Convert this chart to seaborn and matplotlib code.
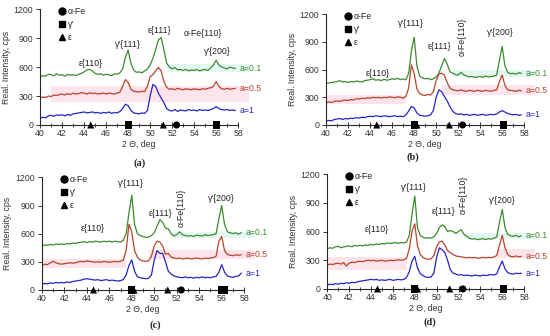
import numpy as np
import pandas as pd
import seaborn as sns
import matplotlib.pyplot as plt
from matplotlib.patches import Rectangle
from matplotlib.lines import Line2D

# 2-theta grid (deg)
two_theta = np.arange(40, 58, 0.25)
samples = ['a=0.1', 'a=0.5', 'a=1']
colors = ['#3c8a2e', '#b8432a', '#2424c8']

# intensities, cps
a_01 = [500, 510, 505, 525, 520, 510, 530, 515,
        520, 505, 525, 515, 520, 510, 525, 535,
        550, 570, 575, 560, 535, 525, 530, 515,
        525, 520, 510, 530, 525, 540, 580, 700,
        775, 640, 570, 545, 550, 540, 560, 580,
        620, 690, 780, 880, 905, 780, 640, 600,
        580, 595, 570, 575, 565, 575, 560, 570,
        565, 575, 560, 570, 575, 565, 590, 620,
        670, 620, 600, 590, 580, 600, 590, 585]
a_05 = [280, 290, 285, 300, 295, 310, 305, 315,
        320, 310, 325, 315, 330, 320, 325, 335,
        330, 320, 335, 325, 330, 320, 325, 330,
        320, 330, 325, 320, 330, 340, 400, 470,
        440, 370, 350, 345, 340, 350, 345, 400,
        500, 520, 560, 595, 560, 450, 390, 370,
        375, 365, 380, 370, 365, 375, 370, 365,
        375, 370, 365, 375, 370, 380, 385, 400,
        450, 400, 375, 370, 380, 370, 375, 380]
a_10 = [70, 80, 75, 95, 100, 90, 105, 100,
        105, 95, 110, 100, 115, 120, 125, 130,
        135, 125, 130, 135, 125, 130, 120, 130,
        125, 135, 120, 130, 125, 140, 170, 215,
        200, 150, 125, 120, 115, 125, 120, 150,
        300, 420, 400, 330, 280, 230, 170, 150,
        145, 160, 140, 155, 150, 145, 160, 150,
        155, 145, 160, 150, 155, 150, 160, 170,
        190, 170, 160, 155, 160, 150, 155, 150]

b_01 = [450, 455, 460, 465, 470, 480, 465, 470,
        460, 470, 465, 475, 470, 465, 480, 485,
        490, 500, 485, 490, 480, 495, 485, 490,
        500, 495, 505, 490, 500, 490, 560, 800,
        950, 640, 530, 510, 500, 505, 490, 500,
        520, 560, 640, 720, 660, 580, 560, 545,
        540, 570, 545, 530, 520, 525, 515, 520,
        525, 515, 530, 520, 525, 530, 540, 700,
        850, 640, 570, 555, 560, 550, 565, 560]
b_05 = [240, 250, 245, 255, 260, 255, 265, 270,
        265, 275, 270, 285, 280, 290, 285, 295,
        290, 300, 295, 300, 290, 300, 295, 305,
        300, 295, 305, 300, 290, 310, 400, 650,
        560, 390, 340, 325, 320, 330, 325, 360,
        480, 550, 560, 540, 460, 400, 380, 375,
        370, 380, 370, 365, 375, 370, 365, 375,
        370, 365, 375, 370, 365, 375, 380, 470,
        540, 430, 380, 375, 370, 365, 375, 370]
b_10 = [40, 50, 45, 60, 65, 70, 60, 70,
        65, 75, 70, 80, 75, 85, 80, 90,
        95, 90, 100, 95, 90, 100, 95, 90,
        95, 100, 90, 95, 90, 110, 150, 200,
        185, 130, 105, 100, 95, 100, 110, 160,
        300, 380, 360, 310, 260, 200, 150, 125,
        115, 120, 110, 115, 105, 110, 115, 105,
        110, 115, 105, 110, 115, 110, 120, 140,
        155, 140, 125, 115, 110, 115, 105, 110]

c_01 = [470, 480, 475, 485, 480, 490, 485, 490,
        485, 495, 490, 500, 495, 505, 510, 515,
        505, 515, 510, 520, 515, 510, 520, 515,
        520, 510, 520, 515, 510, 530, 600, 820,
        1010, 700, 600, 580, 570, 560, 565, 580,
        610, 680, 750, 720, 660, 650, 600, 575,
        590, 620, 590, 580, 575, 580, 570, 585,
        580, 575, 590, 580, 585, 590, 600, 760,
        900, 700, 620, 610, 600, 610, 595, 610]
c_05 = [260, 275, 270, 290, 305, 290, 280, 275,
        280, 285, 290, 285, 290, 300, 305, 300,
        310, 305, 300, 295, 300, 295, 305, 300,
        295, 300, 305, 300, 305, 320, 420, 700,
        620, 420, 350, 320, 310, 305, 310, 360,
        470, 520, 510, 470, 380, 390, 350, 340,
        335, 340, 330, 335, 340, 330, 335, 340,
        335, 330, 340, 335, 340, 345, 360, 520,
        570, 420, 380, 370, 365, 375, 370, 375]
c_10 = [60, 70, 65, 75, 70, 80, 75, 80,
        75, 85, 80, 90, 95, 100, 105, 115,
        120, 115, 110, 105, 110, 100, 105, 110,
        100, 105, 100, 95, 100, 110, 160, 260,
        320, 200, 140, 130, 125, 120, 125, 160,
        320, 420, 390, 390, 300, 200, 170, 150,
        140, 135, 130, 140, 130, 135, 125, 135,
        130, 140, 130, 135, 130, 140, 145, 190,
        270, 190, 150, 140, 135, 145, 150, 180]

d_01 = [420, 430, 425, 440, 445, 430, 440, 445,
        450, 440, 455, 450, 455, 450, 460, 455,
        465, 460, 470, 465, 475, 470, 480, 475,
        480, 485, 475, 485, 480, 490, 560, 780,
        970, 640, 560, 540, 530, 535, 530, 545,
        580, 640, 670, 650, 600, 610, 600, 580,
        600, 620, 570, 550, 530, 520, 525, 515,
        520, 525, 515, 525, 520, 530, 545, 700,
        830, 640, 570, 555, 550, 560, 545, 555]
d_05 = [250, 260, 255, 265, 270, 260, 275, 240,
        270, 280, 275, 285, 290, 285, 295, 300,
        295, 300, 290, 295, 300, 290, 295, 300,
        295, 300, 305, 300, 305, 320, 420, 600,
        680, 450, 360, 330, 315, 310, 315, 350,
        440, 490, 500, 460, 400, 380, 360, 345,
        340, 335, 330, 325, 330, 325, 330, 320,
        325, 330, 325, 330, 325, 335, 350, 460,
        560, 430, 360, 340, 335, 345, 335, 340]
d_10 = [40, 50, 45, 55, 50, 60, 55, 65,
        60, 70, 65, 75, 80, 85, 90, 95,
        100, 95, 100, 90, 95, 90, 95, 100,
        90, 95, 100, 95, 100, 120, 180, 290,
        340, 220, 160, 140, 125, 120, 125, 170,
        330, 430, 410, 380, 300, 200, 165, 155,
        145, 150, 140, 145, 140, 135, 145, 140,
        135, 145, 140, 145, 150, 145, 160, 230,
        290, 210, 170, 160, 155, 165, 160, 165]

curves = {'a': [a_01, a_05, a_10], 'b': [b_01, b_05, b_10],
          'c': [c_01, c_05, c_10], 'd': [d_01, d_05, d_10]}

# reference peak positions (deg)
phases = ['α-Fe', "γ'", 'ε']
phase_markers = ['o', 's', '^']
alpha_pos = [52.4]
gamma_pos = {'a': [48.0, 56.0], 'b': [48.0, 56.1], 'c': [48.0, 56.0, 56.2], 'd': [48.0, 56.1]}
eps_pos = {'a': [44.6, 51.2], 'b': [44.6, 48.25, 51.2], 'c': [44.6, 48.2, 51.2], 'd': [44.6, 48.25, 51.2]}

# peak labels: text, x, y, rotation
peak_labels = {
    'a': [('ε{110}', 44.6, 640, 0), ("γ'{111}", 48.0, 830, 0), ('ε{111}', 50.9, 975, 0),
          ('α-Fe{110}', 54.8, 950, 0), ("γ'{200}", 56.1, 760, 0)],
    'b': [('ε{110}', 44.7, 560, 0), ("γ'{111}", 47.7, 1100, 0), ('ε{111}', 50.3, 850, 0),
          ('α-Fe{110}', 52.4, 950, 90), ("γ'{200}", 55.8, 1000, 0)],
    'c': [('ε{110}', 44.5, 650, 0), ("γ'{111}", 47.9, 1140, 0), ('ε{111}', 50.6, 810, 0),
          ('α-Fe{110}', 52.4, 880, 90), ("γ'{200}", 56.0, 970, 0)],
    'd': [('ε{110}', 44.5, 620, 0), ("γ'{111}", 47.9, 1060, 0), ('ε{111}', 50.6, 810, 0),
          ('α-Fe{110}', 52.4, 980, 90), ("γ'{200}", 56.0, 920, 0)],
}

# faint highlight bands behind the curves: x0, x1, y0, y1, colour
bands = {
    'a': [(41.0, 59.0, 240, 400, '#fde3ea'), (51.5, 59.0, 550, 630, '#e3f8f2')],
    'b': [(40.0, 47.3, 230, 330, '#fde3ea'), (50.5, 59.0, 330, 430, '#fde3ea'),
          (51.5, 59.0, 520, 600, '#e3f8f2')],
    'c': [(40.0, 47.5, 230, 330, '#fde3ea'), (49.5, 59.0, 330, 430, '#fde3ea'),
          (51.7, 59.0, 550, 620, '#e3f8f2')],
    'd': [(40.0, 47.3, 200, 330, '#fde3ea'), (55.5, 59.0, 320, 420, '#fde3ea'),
          (52.5, 59.0, 520, 580, '#e3f8f2')],
}

sns.set_style('ticks')
plt.rcParams['font.family'] = ['Liberation Sans', 'DejaVu Sans']
plt.rcParams['axes.linewidth'] = 0.8
FS = 6.3

fig = plt.figure(figsize=(5.5, 3.36), dpi=100)
boxes = {'a': [0.073, 0.628, 0.36, 0.345], 'b': [0.593, 0.628, 0.36, 0.33],
         'c': [0.076, 0.137, 0.368, 0.335], 'd': [0.595, 0.14, 0.358, 0.342]}
sub_pos = {'a': (0.253, 0.515), 'b': (0.751, 0.533), 'c': (0.282, 0.033), 'd': (0.782, 0.042)}

legend_handles = [Line2D([], [], marker=m, color='black', ls='', ms=5, label=p)
                  for p, m in zip(phases, phase_markers)]

for key in ['a', 'b', 'c', 'd']:
    ax = fig.add_axes(boxes[key])
    for x0, x1, y0, y1, fc in bands[key]:
        ax.add_patch(Rectangle((x0, y0), x1 - x0, y1 - y0, facecolor=fc, edgecolor='none',
                               zorder=0, clip_on=False))

    df = pd.concat([pd.DataFrame({'two_theta': two_theta, 'cps': vals, 'sample': s})
                    for s, vals in zip(samples, curves[key])])
    sns.lineplot(data=df, x='two_theta', y='cps', hue='sample', hue_order=samples,
                 palette=colors, linewidth=0.9, legend=False, ax=ax, zorder=2)

    pos = alpha_pos + gamma_pos[key] + eps_pos[key]
    ph = ['α-Fe'] * len(alpha_pos) + ["γ'"] * len(gamma_pos[key]) + ['ε'] * len(eps_pos[key])
    marks = pd.DataFrame({'pos': pos, 'phase': ph})
    marks['cps'] = 0
    sns.scatterplot(data=marks, x='pos', y='cps', style='phase', style_order=phases,
                    markers=dict(zip(phases, phase_markers)), color='black', s=26,
                    edgecolor='black', linewidth=0, clip_on=False, zorder=5, legend=False, ax=ax)
    ax.legend(handles=legend_handles, loc='upper left', bbox_to_anchor=(0.07, 1.05),
              frameon=False, fontsize=FS, handletextpad=0.2, labelspacing=0.45,
              handlelength=1.0, borderaxespad=0)

    for s, vals, c in zip(samples, curves[key], colors):
        ax.text(58.15, vals[-1], s, color=c, fontsize=FS, va='center', clip_on=False)
    for txt, x, y, rot in peak_labels[key]:
        ax.text(x, y, txt, fontsize=FS, ha='center', va='center', rotation=rot, color='#222222')

    ax.set_xlim(40, 58)
    ax.set_ylim(0, 1200)
    ax.set_xticks(np.arange(40, 59, 2))
    ax.set_xticks(np.arange(40, 59, 1), minor=True)
    ax.set_yticks([0, 300, 600, 900, 1200])
    ax.tick_params(axis='x', which='major', direction='inout', length=4, width=0.7,
                   labelsize=FS, pad=1, colors='#333333')
    ax.tick_params(axis='x', which='minor', direction='inout', length=3, width=0.6)
    ax.tick_params(axis='y', direction='out', length=3, width=0.7, labelsize=FS, pad=2,
                   colors='#333333')
    ax.set_xlabel('2 Θ, deg', fontsize=FS, labelpad=1, color='#333333')
    ax.set_ylabel('Real. Intensity, cps', fontsize=FS, labelpad=2, color='#333333')
    sns.despine(ax=ax)
    fig.text(*sub_pos[key], f'({key})', family='Liberation Serif', fontweight='bold',
             fontsize=7.5, ha='center', va='center')

fig.savefig('out.png', dpi=100)
